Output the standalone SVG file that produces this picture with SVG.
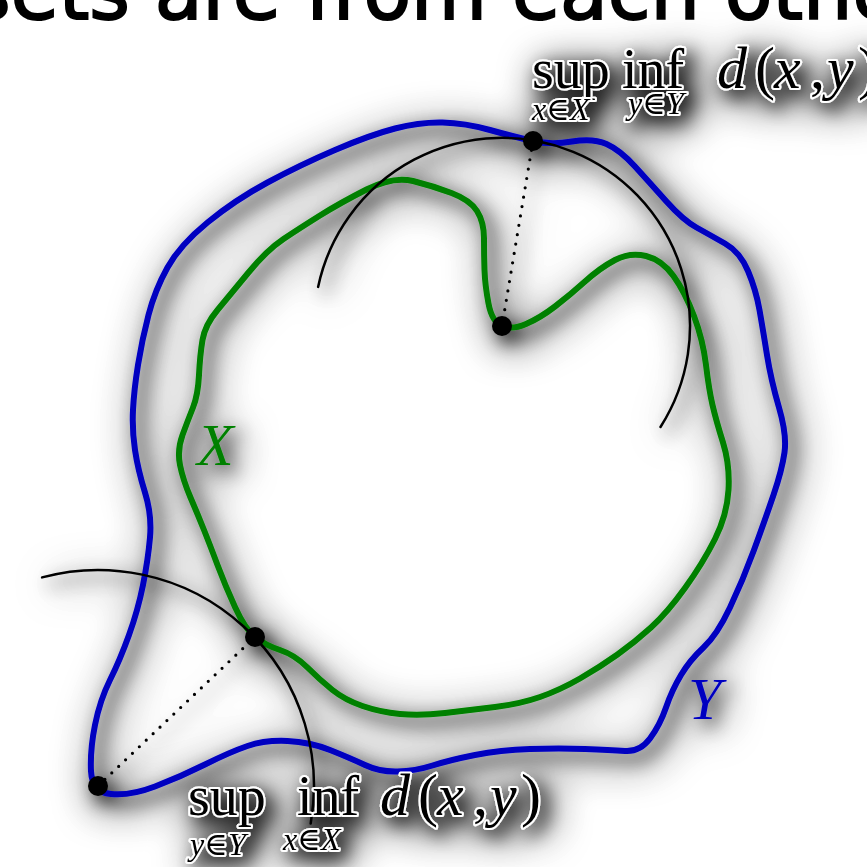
<svg xmlns="http://www.w3.org/2000/svg" width="867" height="867" viewBox="0 0 867 867">
<defs>
<filter id="sh" x="-30%" y="-30%" width="160%" height="160%">
<feGaussianBlur in="SourceAlpha" stdDeviation="9" result="b1"/>
<feOffset in="b1" dx="7" dy="7" result="o1"/>
<feComponentTransfer in="o1" result="s1"><feFuncA type="linear" slope="0.9"/></feComponentTransfer>
<feGaussianBlur in="SourceAlpha" stdDeviation="20" result="b2"/>
<feOffset in="b2" dx="8" dy="8" result="o2"/>
<feComponentTransfer in="o2" result="s2"><feFuncA type="linear" slope="1.3"/></feComponentTransfer>
<feMerge><feMergeNode in="s2"/><feMergeNode in="s1"/><feMergeNode in="SourceGraphic"/></feMerge>
</filter>
</defs>
<style>
.blue{fill:none;stroke:#0000c0;stroke-width:6;stroke-linejoin:round}
.green{fill:none;stroke:#008000;stroke-width:6;stroke-linejoin:round}
.arc{fill:none;stroke:#000;stroke-width:2.5;stroke-linecap:round}
.dotted{fill:none;stroke:#000;stroke-width:3.2;stroke-linecap:round;stroke-dasharray:0 9.5}
.pt{fill:#000}
.math{font-family:"Liberation Serif","DejaVu Serif",serif;fill:#000;stroke:#fff;stroke-width:4;paint-order:stroke;stroke-linejoin:round}
.it{font-style:italic}
.big{font-size:56px}
.dxy{font-size:60px}
.sub{font-size:32px;font-style:italic}
.lbl{font-family:"Liberation Serif","DejaVu Serif",serif;font-style:italic;font-size:60px}
.head{font-family:"DejaVu Sans",sans-serif;font-size:78px;fill:#000;stroke:#000;stroke-width:2}
</style>
<rect width="867" height="867" fill="#fff"/>
<text class="head" x="-30" y="19">sets are from each other</text>
<g filter="url(#sh)">
<g id="curve-Y">
<path class="blue" d="M533,141 Q551,145 572,141.5 Q593,138 606.5,144 Q620,150 635,166.5 Q650,183 666.5,201.5 Q683,220 696.5,227.5 Q710,235 725,243.5 Q740,252 748,271 Q756,290 759.5,310 Q763,330 767,355 Q771,380 779,407.5 Q787,435 784.5,452.5 Q782,470 773.5,495 Q765,520 754,550 Q743,580 730,607.5 Q717,635 703.5,647.5 Q690,660 681,675 Q672,690 666,707.5 Q660,725 650,738.5 Q640,752 625,751 Q610,750 585,749 Q560,748 530,749 Q500,750 475,755 Q450,760 432.5,765.5 Q415,771 397.5,771.5 Q380,772 365,765 Q350,758 330,750 Q310,742 287.5,741 Q265,740 247.5,746 Q230,752 205,764.5 Q180,777 155,786.5 Q130,796 111,794 Q92,792 91,771 Q90,750 95,725 Q100,700 110,680 Q120,660 129,635 Q138,610 143,585 Q148,560 150,537.5 Q152,515 145,492.5 Q138,470 135,450 Q132,430 133,410 Q134,390 138,365 Q142,340 148.5,315 Q155,290 167.5,267.5 Q180,245 207.5,222.5 Q235,200 267.5,182.5 Q300,165 335,150 Q370,135 395,128.5 Q420,122 442.5,122.5 Q465,123 490,130 Q515,137 533,141 Z"/>
</g>
<g id="curve-X">
<path class="green" d="M488.5,303.5 Q492,322 502,326 Q512,330 526,324 Q540,318 555,306.5 Q570,295 585,281.5 Q600,268 615,260 Q630,252 646,256 Q662,260 673.5,276 Q685,292 694,316 Q703,340 706,365 Q709,390 712.5,405 Q716,420 723,442.5 Q730,465 728.5,490 Q727,515 715,539 Q703,563 685,588 Q667,613 651,627.5 Q635,642 617.5,654.5 Q600,667 580,678.5 Q560,690 540,697 Q520,704 495,707 Q470,710 445,713 Q420,716 400,714 Q380,712 362.5,706 Q345,700 332.5,690 Q320,680 307.5,667.5 Q295,655 280,650 Q265,645 255,637 Q245,629 235,607 Q225,585 217.5,565 Q210,545 204,530 Q198,515 190.5,497.5 Q183,480 180,465 Q177,450 182.5,435 Q188,420 193,407.5 Q198,395 199,375 Q200,355 202.5,340 Q205,325 217.5,310 Q230,295 248.5,272.5 Q267,250 283.5,239 Q300,228 320,215.5 Q340,203 366.5,189.5 Q393,176 413,181 Q433,186 451.5,193 Q470,200 477,211 Q484,222 484,238.5 Q484,255 484.5,270 Q485,285 488.5,303.5 Z"/>
</g>
<g id="connectors">
<path id="arc-top" class="arc" d="M318.1,286.9 A188,188 0 1 1 660.5,427"/>
<path id="arc-bottom" class="arc" d="M42.1,577.4 A216,216 0 0 1 310.7,823.5"/>
<path id="dist-top" class="dotted" d="M533,141 L502,326"/>
<path id="dist-bottom" class="dotted" d="M98,786 L255,637"/>
</g>
<g id="point-y-top"><circle class="pt" cx="533" cy="141" r="10"/></g>
<g id="point-x-dip"><circle class="pt" cx="502" cy="326" r="10"/></g>
<g id="point-x-left"><circle class="pt" cx="255" cy="637" r="10"/></g>
<g id="point-y-corner"><circle class="pt" cx="98" cy="786" r="10"/></g>
<g id="label-X"><text class="lbl" x="197" y="465" fill="#008000">X</text></g>
<g id="label-Y"><text class="lbl" x="688" y="719" fill="#0000c0">Y</text></g>
<g id="formula-top">
<text class="math big" y="88"><tspan x="532">sup</tspan><tspan x="622">inf</tspan></text>
<text class="math dxy" y="88"><tspan class="it" x="717">d</tspan><tspan x="755">(</tspan><tspan class="it" x="774">x</tspan><tspan x="810">,</tspan><tspan class="it" x="827">y</tspan><tspan x="858">)</tspan></text>
<text class="math sub" x="532" y="120">x∈X</text>
<text class="math sub" x="628" y="114">y∈Y</text>
</g>
<g id="formula-bottom">
<text class="math big" y="815"><tspan x="188">sup</tspan><tspan x="297">inf</tspan></text>
<text class="math dxy" y="815"><tspan class="it" x="380">d</tspan><tspan x="418">(</tspan><tspan class="it" x="437">x</tspan><tspan x="473">,</tspan><tspan class="it" x="490">y</tspan><tspan x="521">)</tspan></text>
<text class="math sub" x="190" y="855">y∈Y</text>
<text class="math sub" x="283" y="850">x∈X</text>
</g>
</g>
</svg>
